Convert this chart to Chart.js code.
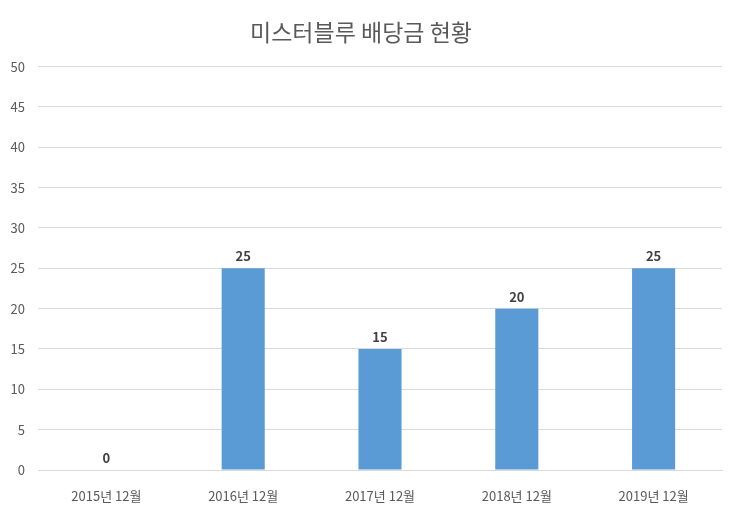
<!DOCTYPE html>
<html>
<head>
<meta charset="utf-8">
<script src="https://cdn.jsdelivr.net/npm/chart.js@4"></script>
<style>
  html, body { margin: 0; padding: 0; background: #fff; }
  #wrap { width: 740px; height: 516px; }
</style>
</head>
<body>
<div id="wrap"><canvas id="dividendChart"></canvas></div>
<script>
// chart data
const categories = ["2015년 12월", "2016년 12월", "2017년 12월", "2018년 12월", "2019년 12월"];
const dividends = [0, 25, 15, 20, 25];
const yTicks = [0, 5, 10, 15, 20, 25, 30, 35, 40, 45, 50];

const fontFamily = "'Noto Sans CJK KR', 'Noto Sans', sans-serif";

// draws the value above each bar
const barLabels = {
  id: "barLabels",
  afterDatasetsDraw(chart) {
    const ctx = chart.ctx;
    const meta = chart.getDatasetMeta(0);
    ctx.save();
    ctx.font = "bold 13px " + fontFamily;
    ctx.fillStyle = "#404040";
    ctx.textAlign = "center";
    ctx.textBaseline = "middle";
    meta.data.forEach((bar, i) => {
      ctx.fillText(String(dividends[i]), bar.x, bar.y - 12);
    });
    ctx.restore();
  },
};

new Chart(document.getElementById("dividendChart"), {
  type: "bar",
  data: {
    labels: categories,
    datasets: [
      {
        label: "배당금",
        data: dividends,
        backgroundColor: "#5B9BD5",
        categoryPercentage: 1,
        barPercentage: 0.315,
      },
    ],
  },
  options: {
    responsive: true,
    maintainAspectRatio: false,
    animation: false,
    layout: { padding: { left: 0, right: 18, top: 0, bottom: 0 } },
    plugins: {
      legend: { display: false },
      tooltip: { enabled: false },
      title: {
        display: true,
        text: "미스터블루 배당금 현황",
        color: "#595959",
        font: { family: fontFamily, size: 23, weight: "normal" },
        padding: { top: 18, bottom: 21 },
      },
    },
    scales: {
      x: {
        grid: { display: false },
        border: { display: true, color: "#D9D9D9" },
        ticks: {
          color: "#595959",
          font: { family: fontFamily, size: 13 },
          padding: 10,
          maxRotation: 0,
        },
        afterFit(scale) { scale.height = 46; },
      },
      y: {
        min: 0,
        max: 50,
        afterBuildTicks(scale) {
          scale.ticks = yTicks.map((v) => ({ value: v }));
        },
        grid: { color: "#D9D9D9", drawTicks: false },
        border: { display: false },
        ticks: {
          color: "#595959",
          font: { family: fontFamily, size: 13 },
          padding: 13,
        },
        afterFit(scale) { scale.width = 38; },
      },
    },
  },
  plugins: [barLabels],
});
</script>
</body>
</html>
